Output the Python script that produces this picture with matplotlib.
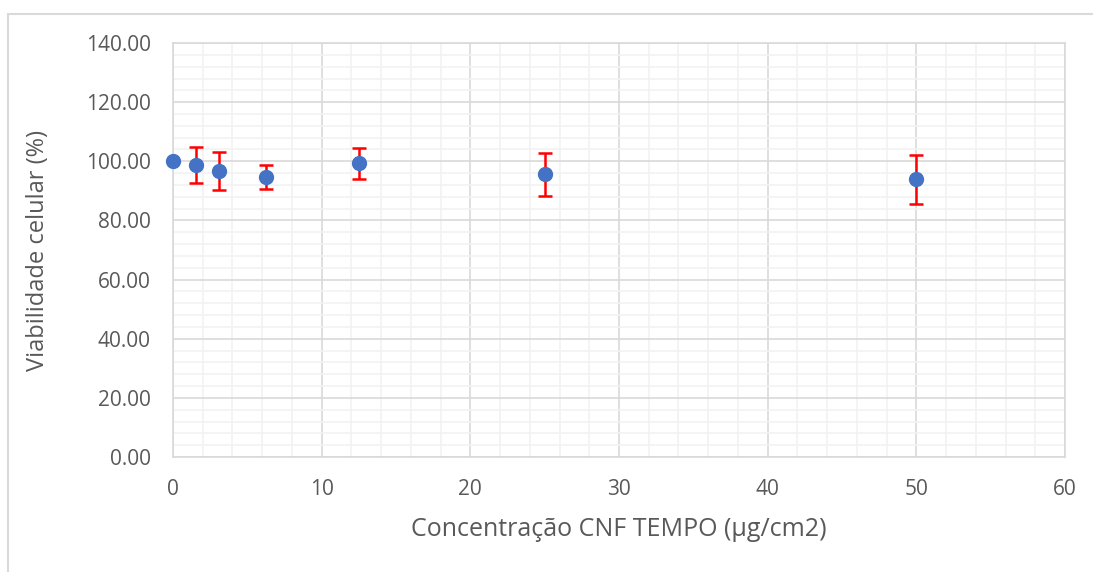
import matplotlib.pyplot as plt
from matplotlib.patches import Rectangle
from matplotlib.ticker import MultipleLocator, FormatStrFormatter

# cell viability vs CNF TEMPO concentration
concentracao = [0, 1.5625, 3.125, 6.25, 12.5, 25, 50]
viabilidade = [100.0, 98.7, 96.7, 94.6, 99.3, 95.6, 93.9]
desvio = [0.0, 6.0, 6.4, 4.0, 5.3, 7.3, 8.3]


def main():
    plt.rcParams['font.family'] = ['Open Sans', 'DejaVu Sans']

    fig = plt.figure(figsize=(10.93, 5.72), dpi=100)
    ax = fig.add_axes([0.1583, 0.2010, 0.8161, 0.7238])

    # chart frame (top and left edges only)
    fig.patches.append(Rectangle((8 / 1093, -0.1), 1.2, (572 - 14) / 572 + 0.1,
                                 transform=fig.transFigure, fill=False,
                                 edgecolor='#D9D9D9', linewidth=1.5, zorder=0))

    ax.errorbar(concentracao, viabilidade, yerr=desvio, fmt='none',
                ecolor='#FF0000', elinewidth=1.8, capsize=5, capthick=1.8, zorder=3)
    ax.plot(concentracao, viabilidade, 'o', color='#4472C4', markersize=10,
            zorder=4, clip_on=False)

    ax.set_xlim(0, 60)
    ax.set_ylim(0, 140)
    ax.xaxis.set_major_locator(MultipleLocator(10))
    ax.xaxis.set_minor_locator(MultipleLocator(2))
    ax.yaxis.set_major_locator(MultipleLocator(20))
    ax.yaxis.set_minor_locator(MultipleLocator(4))
    ax.yaxis.set_major_formatter(FormatStrFormatter('%.2f'))

    ax.grid(which='major', color='#D9D9D9', linewidth=1.2)
    ax.grid(which='minor', color='#F2F2F2', linewidth=1.2)
    ax.set_axisbelow(True)

    for s in ax.spines.values():
        s.set_color('#D9D9D9')
        s.set_linewidth(1.2)

    ax.tick_params(which='both', length=0, labelsize=15, labelcolor='#595959')
    ax.tick_params(axis='x', pad=16)
    ax.tick_params(axis='y', pad=16)

    ax.set_xlabel('Concentração CNF TEMPO (µg/cm2)', fontsize=18, color='#595959', labelpad=12)
    ax.set_ylabel('Viabilidade celular (%)', fontsize=17, color='#595959', labelpad=26)

    fig.savefig('out.png', dpi=100)


if __name__ == "__main__":
    main()
